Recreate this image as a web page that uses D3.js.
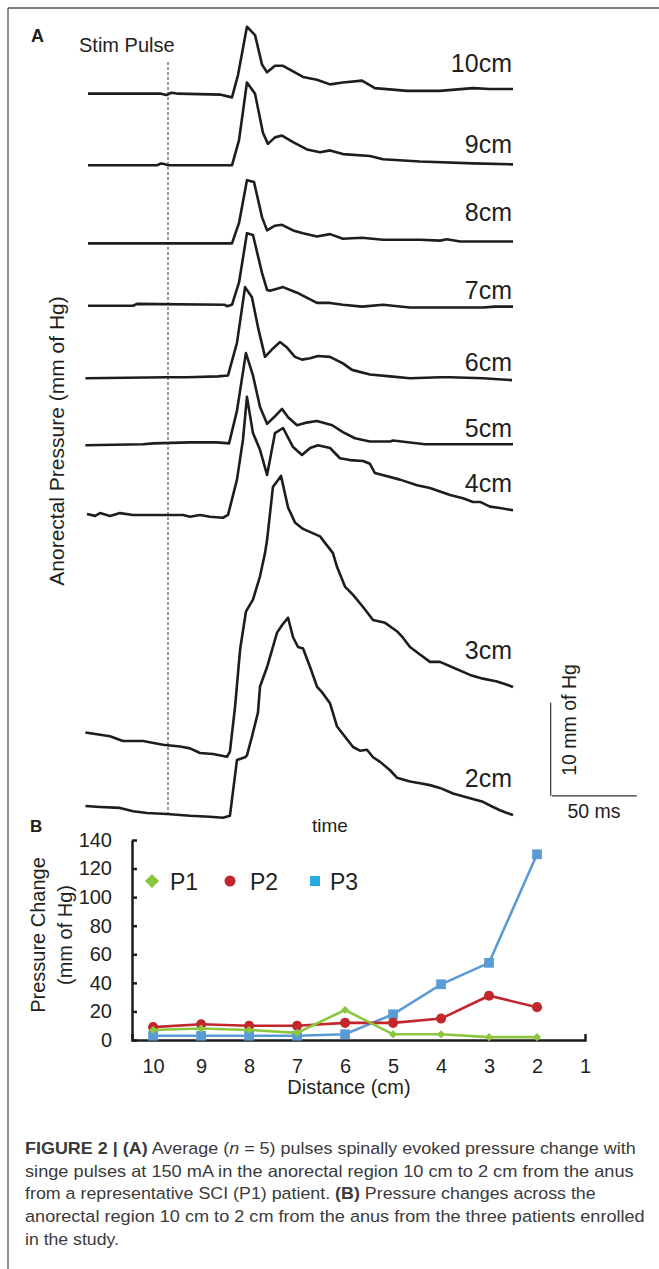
<!DOCTYPE html>
<html>
<head>
<meta charset="utf-8">
<script src="https://cdn.jsdelivr.net/npm/d3@7"></script>
<style>
  body { margin: 0; background: #fff; }
  svg text { font-family: "Liberation Sans", Arial, Helvetica, sans-serif; fill: #231f20; }
  .caption text { fill: #3a3a3a; }
</style>
</head>
<body>
<svg id="fig" width="659" height="1269"></svg>

<script>
// ---------- panel A : averaged evoked pulses ----------
// each point = [ms after stim pulse, mmHg above that trace's own baseline]
var traceNames = ["10cm", "9cm", "8cm", "7cm", "6cm", "5cm", "4cm", "3cm", "2cm"];

var trace10 = [[-46.5,0],[-4,0],[-1,-0.15],[2,0.1],[6,0],[30.2,-0.1],[37.2,-0.4],[40.7,2.0],[45.9,7.2],[50.6,6.3],[54.7,3.1],[57.6,2.3],[62.2,3.0],[66.9,3.0],[72.7,2.4],[78.5,1.8],[86.6,1.5],[94.2,1.0],[101.7,1.2],[112.8,1.4],[120.3,0.6],[139.0,0.3],[158.1,0.3],[177.3,0.6],[187.2,0.5],[200.6,0.5]];
var trace9  = [[-46.5,0],[-6.4,0],[-4,0.2],[-1.5,0.1],[0,0],[37.2,0],[41.3,2.7],[45.9,8.9],[50.6,7.7],[55.2,3.5],[58.1,2.3],[62.2,3.0],[66.3,3.2],[72.7,2.5],[80.8,1.7],[88.4,1.4],[94.2,1.6],[101.7,1.2],[117.4,1.0],[125.0,0.65],[146.5,0.4],[177.3,0.2],[200.6,0.1]];
var trace8  = [[-46.5,0],[37.2,0],[41.3,2.2],[45.9,6.8],[50.0,6.6],[54.7,2.8],[57.6,1.4],[62.2,1.9],[66.3,2.0],[72.7,1.4],[78.5,1.1],[86.6,0.75],[94.2,1.0],[101.7,0.5],[112.8,0.6],[125.0,0.4],[146.5,0.4],[158.1,0.3],[162.2,0.45],[169.8,0.2],[200.6,0.2]];
var trace7  = [[-46.5,0],[-20.3,0],[-18,0.2],[33,0.1],[34.3,-0.05],[37.2,0.1],[41.3,2.5],[45.9,7.8],[49.4,7.6],[54.7,3.5],[57.6,1.7],[59.3,1.6],[66.9,2.0],[75.0,1.4],[86.6,0.3],[94.2,0.3],[101.7,0.1],[112.8,-0.1],[125.0,0.1],[140.7,-0.2],[183.1,-0.2],[190.1,-0.1],[200.6,-0.1]];
var trace6  = [[-48,0],[-0.6,0.1],[11.0,0.1],[29.1,0.2],[34.9,0.3],[40.1,3.8],[44.8,9.8],[48.8,8.7],[52.3,5.5],[56.4,2.3],[60.5,3.1],[65.1,3.9],[69.2,3.3],[73.8,2.3],[77.9,2.0],[82.6,2.15],[87.2,2.4],[94.2,2.3],[101.7,1.6],[107.0,0.9],[117.4,0.4],[129.1,0.2],[140.7,0],[158.1,0.1],[164.0,0.1],[183.1,0],[200,-0.2]];
var trace5  = [[-48,0],[-14.5,0.1],[-8.7,0.2],[12.8,0.3],[28.5,0.3],[35.5,0.2],[40.1,3.7],[45.3,9.9],[49.4,7.5],[53.5,4.1],[57.6,2.3],[61.6,3.0],[66.3,3.9],[69.8,3.0],[75.0,2.15],[79.7,2.4],[86.6,2.6],[95.5,2.15],[101.7,1.4],[108.7,0.75],[117.4,0.4],[129.1,0.4],[130.8,0.5],[140.7,0.3],[149.4,0.1],[200.6,0.1]];
var trace4  = [[-47.1,0.1],[-42.4,-0.1],[-39.5,0.2],[-33.7,-0.1],[-27.9,0.2],[-20.3,0],[-0.6,0],[8.7,0],[12.8,-0.2],[18.6,0],[24.4,-0.2],[32.0,-0.3],[34.9,0],[40.1,3.8],[43.6,8.1],[45.9,12.7],[49.4,8.8],[53.5,7.0],[57.6,4.3],[62.2,8.8],[66.9,9.35],[72.7,7.3],[77.9,6.45],[82.6,7.2],[87.2,7.5],[94.2,7.2],[100.0,6.1],[105.8,5.9],[113.4,5.8],[117.4,5.5],[120.3,4.5],[134.9,3.8],[144.8,3.2],[152.3,2.9],[164.0,2.15],[171.5,1.8],[177.3,1.4],[181.4,1.4],[187.2,0.9],[193.0,0.75],[200.6,0.5]];
var trace3  = [[-48,1.3],[-33.7,0.9],[-26.2,0.4],[-14.5,0.4],[-2.9,0],[7.0,-0.2],[12.8,-0.4],[18.6,-0.9],[26.2,-1.0],[34.3,-1.3],[36.0,-0.75],[39.0,4.1],[41.9,10.2],[45.3,14.3],[49.4,15.6],[53.5,18.1],[56.4,20.6],[57.6,22.0],[61.0,27.7],[65.7,28.9],[69.8,25.5],[73.8,23.9],[78.5,23.2],[88.4,22.4],[95.9,20.6],[98.3,19.1],[102.9,17.0],[107.6,16.1],[113.4,14.8],[119.2,13.4],[126.2,13.1],[133.1,12.2],[136.6,11.5],[140.7,10.5],[146.5,9.7],[152.3,8.9],[158.1,8.9],[165.7,8.3],[175.6,7.5],[183.1,7.1],[191.3,6.8],[197.1,6.45],[200.6,6.2]];
var trace2  = [[-48,0.85],[-39.5,0.75],[-27.9,0.65],[-20.3,0.3],[-12.2,0.1],[-0.6,0],[12.8,-0.2],[24.4,-0.3],[32.0,-0.4],[36.0,-0.2],[40.1,5.8],[44.8,6.1],[45.9,6.3],[48.8,8.3],[52.3,10.9],[53.5,13.7],[57.6,15.8],[63.4,19.5],[66.3,20.3],[69.8,21.1],[72.7,19.0],[75.6,17.95],[78.5,17.8],[82.6,15.8],[86.6,13.7],[89.5,13.1],[94.2,11.9],[98.3,9.4],[102.9,8.3],[107.6,7.2],[111.6,6.8],[115.7,6.9],[119.2,6.1],[123.3,5.6],[129.1,4.7],[133.1,3.9],[140.7,3.5],[146.5,3.3],[152.3,3.1],[158.1,2.8],[165.7,2.2],[175.6,1.7],[183.1,1.3],[189.0,0.75],[193.0,0.4],[197.1,0.1],[200.6,-0.1]];

var traces = [trace10, trace9, trace8, trace7, trace6, trace5, trace4, trace3, trace2];

// ---------- panel B : pressure change vs distance ----------
var distances = [10, 9, 8, 7, 6, 5, 4, 3, 2];
var distanceTicks = [10, 9, 8, 7, 6, 5, 4, 3, 2, 1];
var pressureTicks = [0, 20, 40, 60, 80, 100, 120, 140];
var p1 = [7, 8, 7, 5, 21, 4, 4, 2, 2];
var p2 = [9, 11, 10, 10, 12, 12, 15, 31, 23];
var p3 = [3, 3, 3, 3, 4, 18, 39, 54, 130];

var captionLines = [
  [["b","FIGURE 2 | (A)"],["r"," Average ("],["i","n"],["r"," = 5) pulses spinally evoked pressure change with"]],
  [["r","singe pulses at 150 mA in the anorectal region 10 cm to 2 cm from the anus"]],
  [["r","from a representative SCI (P1) patient. "],["b","(B)"],["r"," Pressure changes across the"]],
  [["r","anorectal region 10 cm to 2 cm from the anus from the three patients enrolled"]],
  [["r","in the study."]]
];

var svg = d3.select("#fig");
var ink = "#1d1d1b";

// frame
svg.append("line").attr("x1", 8).attr("y1", 8).attr("x2", 659).attr("y2", 8)
   .attr("stroke", "#555").attr("stroke-width", 1.3);
svg.append("line").attr("x1", 8).attr("y1", 8).attr("x2", 8).attr("y2", 1269)
   .attr("stroke", "#555").attr("stroke-width", 1.3);

// ===== panel A =====
var xT = d3.scaleLinear().domain([0, 50]).range([168, 254]);   // 50 ms = 86 px
var yP = d3.scaleLinear().domain([0, 10]).range([820, 727]);   // 10 mmHg = 93 px

// vertical stacking of the traces (mmHg on the yP scale) and label lift (px)
var stackOffset = [78.1, 70.4, 62.0, 55.3, 47.5, 40.3, 32.8, 8.1, 0.65];
var labelLift   = [17, 11, 21, 8, 9, 7, 18, 28, 28];

var gA = svg.append("g");

gA.append("text").attr("x", 31).attr("y", 42)
  .style("font-weight", "bold").style("font-size", "18px").text("A");

gA.append("text").attr("x", 79).attr("y", 52)
  .style("font-size", "20px").text("Stim Pulse");

gA.append("line")
  .attr("x1", xT(0)).attr("x2", xT(0)).attr("y1", 62).attr("y2", 817)
  .attr("stroke", "#333").attr("stroke-width", 1).attr("stroke-dasharray", "3,2");

traces.forEach(function(tr, i) {
  var off = stackOffset[i];
  var line = d3.line()
      .x(function(d) { return xT(d[0]); })
      .y(function(d) { return yP(d[1] + off); });

  gA.append("path")
    .datum(tr)
    .attr("d", line)
    .attr("fill", "none")
    .attr("stroke", ink)
    .attr("stroke-width", 2.6)
    .attr("stroke-linejoin", "round");

  var last = tr[tr.length - 1];
  gA.append("text")
    .attr("x", 512)
    .attr("y", yP(last[1] + off) - labelLift[i])
    .attr("text-anchor", "end")
    .style("font-size", "25px")
    .text(traceNames[i]);
});

gA.append("text")
  .attr("transform", "translate(64,441) rotate(-90)")
  .attr("text-anchor", "middle")
  .style("font-size", "21px")
  .text("Anorectal Pressure (mm of Hg)");

gA.append("text").attr("x", 330).attr("y", 832).attr("text-anchor", "middle")
  .style("font-size", "19px").text("time");

// scale bar
var barT = 222.5, barP = 2.6;
gA.append("line")
  .attr("x1", xT(barT)).attr("x2", xT(barT))
  .attr("y1", yP(barP)).attr("y2", yP(barP + 10))
  .attr("stroke", "#333").attr("stroke-width", 1.2);
gA.append("line")
  .attr("x1", xT(barT) + 1).attr("x2", xT(barT + 50))
  .attr("y1", yP(barP)).attr("y2", yP(barP))
  .attr("stroke", "#333").attr("stroke-width", 1.2);
gA.append("text")
  .attr("transform", "translate(576,720) rotate(-90)")
  .attr("text-anchor", "middle")
  .style("font-size", "19.5px").text("10 mm of Hg");
gA.append("text").attr("x", 594).attr("y", 818)
  .attr("text-anchor", "middle").style("font-size", "19.5px").text("50 ms");

// ===== panel B =====
var xB = d3.scaleLinear().domain([10.44, 1]).range([132, 585]);
var yB = d3.scaleLinear().domain([0, 140]).range([1040, 840]);

var gB = svg.append("g");

gB.append("text").attr("x", 30).attr("y", 832)
  .style("font-weight", "bold").style("font-size", "17px").text("B");

var yAxis = gB.append("g")
  .attr("transform", "translate(132,0)")
  .call(d3.axisLeft(yB).tickValues(pressureTicks).tickSizeInner(-5).tickSizeOuter(0).tickPadding(20));

var xAxis = gB.append("g")
  .attr("transform", "translate(0,1040)")
  .call(d3.axisBottom(xB).tickValues(distanceTicks).tickSizeInner(0).tickSizeOuter(-6).tickPadding(19));

[yAxis, xAxis].forEach(function(ax) {
  ax.attr("font-family", null).attr("font-size", null);
  ax.selectAll("path, line").attr("stroke", ink).attr("stroke-width", 2.5);
  ax.selectAll("text").style("font-size", "20px").attr("fill", ink);
});

gB.append("text")
  .attr("transform", "translate(45,935) rotate(-90)")
  .attr("text-anchor", "middle").style("font-size", "20px").text("Pressure Change");
gB.append("text")
  .attr("transform", "translate(72,935) rotate(-90)")
  .attr("text-anchor", "middle").style("font-size", "20px").text("(mm of Hg)");

gB.append("text").attr("x", 349).attr("y", 1094).attr("text-anchor", "middle")
  .style("font-size", "20px").text("Distance (cm)");

var series = [
  { name: "P3", values: p3, color: "#5b9bd5", symbol: d3.symbolSquare, size: 95, rot: 0 },
  { name: "P2", values: p2, color: "#c1272d", symbol: d3.symbolCircle, size: 80, rot: 0 },
  { name: "P1", values: p1, color: "#8cc63f", symbol: d3.symbolSquare, size: 34, rot: 45 }
];

var seriesLine = d3.line()
  .x(function(d, i) { return xB(distances[i]); })
  .y(function(d) { return yB(d); });

series.forEach(function(s) {
  gB.append("path")
    .datum(s.values)
    .attr("d", seriesLine)
    .attr("fill", "none")
    .attr("stroke", s.color)
    .attr("stroke-width", 2.6);

  gB.selectAll(".m" + s.name)
    .data(s.values)
    .enter().append("path")
    .attr("d", d3.symbol().type(s.symbol).size(s.size))
    .attr("transform", function(d, i) {
      return "translate(" + xB(distances[i]) + "," + yB(d) + ") rotate(" + s.rot + ")";
    })
    .attr("fill", s.color);
});

// legend
var legend = [
  { name: "P1", color: "#8cc63f", symbol: d3.symbolSquare, size: 100, rot: 45, mx: 152, tx: 170 },
  { name: "P2", color: "#c1272d", symbol: d3.symbolCircle, size: 95, rot: 0, mx: 230, tx: 250 },
  { name: "P3", color: "#29abe2", symbol: d3.symbolSquare, size: 100, rot: 0, mx: 315, tx: 330 }
];
legend.forEach(function(l) {
  gB.append("path")
    .attr("d", d3.symbol().type(l.symbol).size(l.size))
    .attr("transform", "translate(" + l.mx + ",881) rotate(" + l.rot + ")")
    .attr("fill", l.color);
  gB.append("text").attr("x", l.tx).attr("y", 890)
    .style("font-size", "23px").text(l.name);
});

// ===== caption =====
// each line is squeezed horizontally to the width it has in the figure
var capWidths = [611, 609, 571, 620, 94];
var cap = svg.append("g").attr("class", "caption");
captionLines.forEach(function(parts, i) {
  var g = cap.append("g");
  var t = g.append("text").attr("x", 0).attr("y", 0).style("font-size", "16.5px");
  parts.forEach(function(p) {
    var ts = t.append("tspan").text(p[1]);
    if (p[0] === "b") ts.style("font-weight", "bold");
    if (p[0] === "i") ts.style("font-style", "italic");
  });
  var w = t.node().getComputedTextLength();
  g.attr("transform", "translate(25," + (1154 + i * 22.7) + ") scale(" + (capWidths[i] / w) + ",1)");
});
</script>
</body>
</html>
